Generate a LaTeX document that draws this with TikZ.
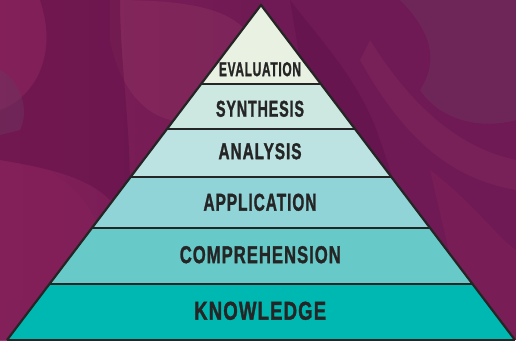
\documentclass[tikz,border=0pt]{standalone}
\usepackage{fontspec}
\newfontfamily\labfont[LetterSpace=6,FakeBold=1.6]{Liberation Sans}
\usetikzlibrary{calc}
\definecolor{bgmag}{HTML}{86215A}
\definecolor{bgdark}{HTML}{5E0F47}
\definecolor{bgmid}{HTML}{6F1A54}
\definecolor{bglight}{HTML}{8C3262}
\definecolor{bgmauve}{HTML}{6E3660}
\definecolor{cEval}{HTML}{E8F1E2}
\definecolor{cSynt}{HTML}{CDE8E1}
\definecolor{cAnal}{HTML}{BCE3E2}
\definecolor{cAppl}{HTML}{90D4D8}
\definecolor{cComp}{HTML}{68C9C9}
\definecolor{cKnow}{HTML}{00B8B2}
\definecolor{ink}{HTML}{252525}
\tikzset{
  band/.style={fill=#1, draw=none},
  divider/.style={draw=ink, line width=1.4pt},
  outline/.style={draw=ink, line width=2.2pt, line join=miter},
  lab/.style={inner sep=0pt, text=ink, font=\labfont\bfseries},
  blob/.style={fill=#1, draw=none, opacity=0.45}
}
\newcommand{\fitlab}[3]{\resizebox{#1pt}{#2pt}{#3}}
\begin{document}
\begin{tikzpicture}[x=1pt,y=-1pt]
  \useasboundingbox (0,0) rectangle (516,340);
  % background
  \fill[bgmid] (0,0) rectangle (516,340);
  \shade[left color=bgmag, right color=bgmid, opacity=0.9] (0,0) rectangle (270,340);
  \fill[blob=bglight] (110,0) .. controls (200,0) and (250,10) .. (260,60) -- (200,120) .. controls (150,130) and (120,90) .. (110,40) -- cycle;
  \fill[blob=bgdark] (40,0) .. controls (60,60) and (30,100) .. (0,110) -- (0,160) .. controls (60,170) and (90,180) .. (110,200) -- (130,190) .. controls (130,120) and (120,60) .. (120,0) -- cycle;
  \fill[blob=bgmauve] (0,70) .. controls (20,80) and (30,110) .. (20,130) -- (0,135) -- cycle;
  \fill[blob=bgmag] (0,165) .. controls (40,160) and (80,180) .. (100,230) -- (50,300) -- (0,300) -- cycle;
  \fill[blob=bgmauve] (400,0) -- (516,0) -- (516,120) .. controls (480,130) and (440,120) .. (420,90) .. controls (440,60) and (430,30) .. (400,0) -- cycle;
  \fill[blob=bglight, opacity=0.3] (370,40) .. controls (420,120) and (470,150) .. (516,160) -- (516,190) .. controls (460,180) and (410,150) .. (360,60) -- cycle;
  \fill[blob=bgdark] (290,0) .. controls (320,40) and (360,80) .. (380,140) -- (400,200) -- (350,190) -- (300,60) -- cycle;
  \fill[blob=bgmag] (430,170) .. controls (470,200) and (500,240) .. (516,250) -- (516,340) -- (470,340) -- cycle;

  % pyramid corners
  \coordinate (apex) at (261,5);
  \coordinate (bl) at (7,340);
  \coordinate (br) at (515,340);

  % band boundaries (left / right)
  \coordinate (l1) at (201.1,84);  \coordinate (r1) at (320.9,84);
  \coordinate (l2) at (167.0,129); \coordinate (r2) at (355.0,129);
  \coordinate (l3) at (130.6,177); \coordinate (r3) at (391.4,177);
  \coordinate (l4) at (91.9,228);  \coordinate (r4) at (430.1,228);
  \coordinate (l5) at (49.5,284);  \coordinate (r5) at (472.5,284);

  % bands
  \path[band=cEval] (apex) -- (r1) -- (l1) -- cycle;
  \path[band=cSynt] (l1) -- (r1) -- (r2) -- (l2) -- cycle;
  \path[band=cAnal] (l2) -- (r2) -- (r3) -- (l3) -- cycle;
  \path[band=cAppl] (l3) -- (r3) -- (r4) -- (l4) -- cycle;
  \path[band=cComp] (l4) -- (r4) -- (r5) -- (l5) -- cycle;
  \path[band=cKnow] (l5) -- (r5) -- (br) -- (bl) -- cycle;

  % dividers
  \draw[divider] (l1) -- (r1);
  \draw[divider] (l2) -- (r2);
  \draw[divider] (l3) -- (r3);
  \draw[divider] (l4) -- (r4);
  \draw[divider] (l5) -- (r5);
  \draw[divider] (bl) -- (br);

  % outline
  \draw[outline] (bl) -- (apex) -- (br);

  % labels
  \node[lab] (eval) at (260,69.2)  {\fitlab{82}{14}{EVALUATION}};
  \node[lab] (synt) at (260,108.8) {\fitlab{88}{16}{SYNTHESIS}};
  \node[lab] (anal) at (260,151.3) {\fitlab{83}{16}{ANALYSIS}};
  \node[lab] (appl) at (260,202.3) {\fitlab{113}{17}{APPLICATION}};
  \node[lab] (comp) at (260.3,254.7) {\fitlab{161}{17}{COMPREHENSION}};
  \node[lab] (know) at (260.2,310.8) {\fitlab{132}{18}{KNOWLEDGE}};
\end{tikzpicture}
\end{document}
